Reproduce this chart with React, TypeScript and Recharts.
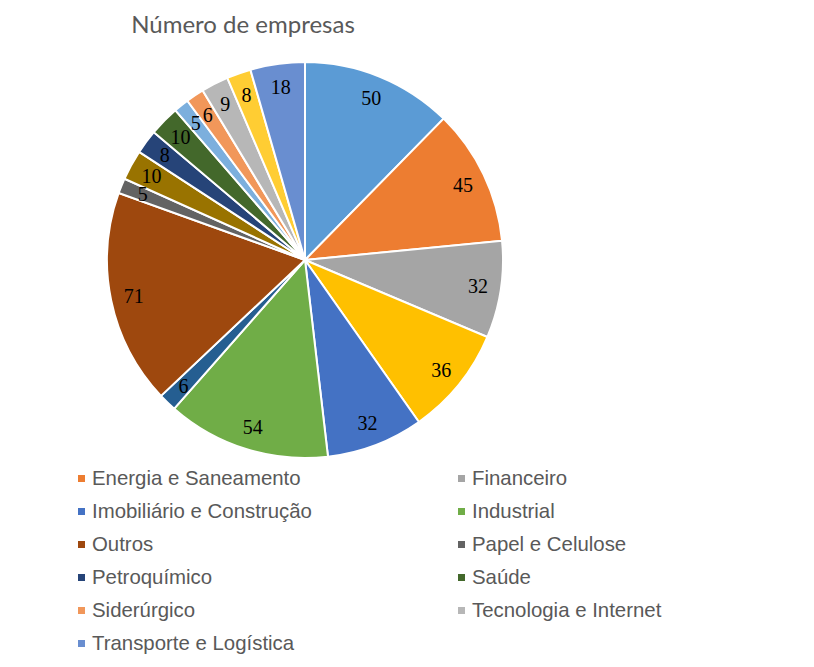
import React from 'react';
import { Pie, PieChart, Cell, Legend } from 'recharts';

// first legend column is cut off in the reference, so those names are unknown
const categories = [
  'Setor 1', 'Energia e Saneamento', 'Financeiro',
  'Setor 4', 'Imobiliário e Construção', 'Industrial',
  'Setor 7', 'Outros', 'Papel e Celulose',
  'Setor 10', 'Petroquímico', 'Saúde',
  'Setor 13', 'Siderúrgico', 'Tecnologia e Internet',
  'Setor 16', 'Transporte e Logística',
];

const empresas = [50, 45, 32, 36, 32, 54, 6, 71, 5, 10, 8, 10, 5, 6, 9, 8, 18];

const COLORS = [
  '#5B9BD5', '#ED7D31', '#A5A5A5', '#FFC000', '#4472C4', '#70AD47',
  '#255E91', '#9E480E', '#636363', '#997300', '#264478', '#43682B',
  '#7CAFDD', '#F1975A', '#B7B7B7', '#FFCD33', '#698ED0',
];

const chartData = categories.map((name, i) => ({ name, value: empresas[i] }));

const RADIAN = Math.PI / 180;

const renderLabel = ({ cx, cy, midAngle, outerRadius, value }: any) => {
  const r = outerRadius - 23;
  const x = cx + r * Math.cos(-midAngle * RADIAN);
  const y = cy + r * Math.sin(-midAngle * RADIAN);
  return (
    <text
      x={x}
      y={y}
      fill="#000"
      textAnchor="middle"
      dominantBaseline="central"
      fontSize={20}
      fontFamily="'Liberation Serif', 'Times New Roman', serif"
    >
      {value}
    </text>
  );
};

// legend is laid out in 3 columns; the first column is outside the cropped view
const renderLegend = () => (
  <div
    style={{
      display: 'grid',
      gridTemplateColumns: '380px 380px',
      fontFamily: "'Liberation Sans', Arial, sans-serif",
      fontSize: 20.4,
      color: '#595959',
    }}
  >
    {chartData.map((d, i) =>
      i % 3 === 0 ? null : (
        <div key={d.name} style={{ height: 33, display: 'flex', alignItems: 'center', whiteSpace: 'nowrap' }}>
          <span
            style={{
              width: 7,
              height: 7,
              background: COLORS[i],
              display: 'inline-block',
              marginRight: 7,
              flexShrink: 0,
            }}
          />
          <span>{d.name}</span>
        </div>
      )
    )}
  </div>
);

export default function App() {
  return (
    <div style={{ position: 'absolute', left: 0, top: 0, width: 814, height: 667, background: '#fff', overflow: 'hidden' }}>
      <div
        style={{
          position: 'absolute',
          left: 0,
          width: 486,
          top: 9,
          textAlign: 'center',
          fontFamily: "Lato, 'Open Sans', sans-serif",
          fontSize: 24,
          lineHeight: '30px',
          color: '#595959',
        }}
      >
        Número de empresas
      </div>
      <PieChart width={814} height={667} margin={{ top: 0, right: 0, bottom: 0, left: 0 }}>
        <Pie
          data={chartData}
          dataKey="value"
          nameKey="name"
          cx={305}
          cy={260}
          outerRadius={198}
          startAngle={90}
          endAngle={-270}
          labelLine={false}
          label={renderLabel}
          isAnimationActive={false}
        >
          {chartData.map((entry, index) => (
            <Cell key={`cell-${index}`} fill={COLORS[index]} stroke="#fff" strokeWidth={2} />
          ))}
        </Pie>
        <Legend
          content={renderLegend}
          wrapperStyle={{ position: 'absolute', left: 78, top: 462, width: 760 }}
        />
      </PieChart>
    </div>
  );
}
